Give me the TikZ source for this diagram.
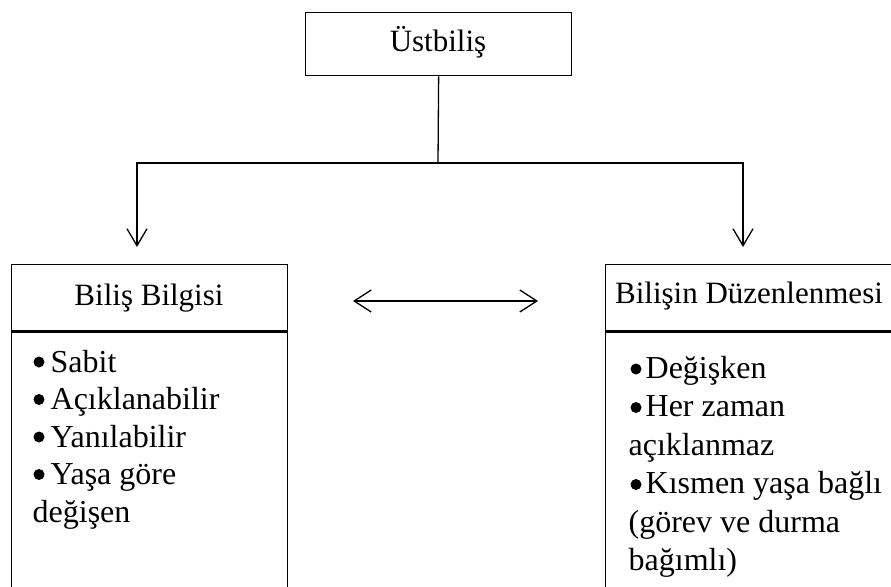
\documentclass[tikz,border=0pt]{standalone}
\usepackage{fontspec}
\setmainfont{Liberation Serif}
\usetikzlibrary{arrows.meta}
\begin{document}
\begin{tikzpicture}[x=1pt,y=-1pt,
  line width=1.3pt,
  frame/.style={draw, inner sep=0pt, anchor=north west},
  title/.style={anchor=base, inner sep=0pt, font=\fontsize{31}{36}\selectfont},
  item/.style={anchor=base west, inner sep=0pt, font=\fontsize{32}{37}\selectfont},
  dot/.style={circle, fill, inner sep=0pt, minimum size=11pt},
  tip/.style={-{Straight Barb[length=17pt,width=20pt]}},
  dtip/.style={{Straight Barb[length=17pt,width=22pt]}-{Straight Barb[length=17pt,width=22pt]}},
]
\useasboundingbox (0,0) rectangle (891,586);
\begin{scope}
\clip (0,0) rectangle (891,586);
% top box
\node[frame, minimum width=266pt, minimum height=63pt] (ust) at (305,12) {};
\node[title] (ustt) at (438,52) {Üstbiliş};
\coordinate (mid) at (438,163);
\coordinate (lt) at (137,247);
\coordinate (rt) at (743,247);
\draw (ust.south) -- (mid);
\draw[tip] (mid) -| (lt);
\draw[tip] (mid) -| (rt);
% left box
\node[frame, minimum width=276pt, minimum height=66pt] (lh) at (11,264) {};
\node[frame, minimum width=276pt, minimum height=280pt] (lb) at (lh.south west) {};
\node[title] (lht) at (149,305) {Biliş Bilgisi};
% right box
\node[frame, minimum width=290pt, minimum height=66pt] (rh) at (605,264) {};
\node[frame, minimum width=290pt, minimum height=280pt] (rb) at (rh.south west) {};
\node[title] (rht) at (749,303) {Bilişin Düzenlenmesi};
% double arrow
\coordinate (da) at (353,301);
\coordinate (db) at (538,301);
\draw[dtip] (da) -- (db);
% left items
\node[dot] (lb1) at (39,362) {};
\node[item] (l1) at (50,372) {Sabit};
\node[dot] (lb2) at (39,399.5) {};
\node[item] (l2) at (50,409.5) {Açıklanabilir};
\node[dot] (lb3) at (39,437) {};
\node[item] (l3) at (50,447) {Yanılabilir};
\node[dot] (lb4) at (39,474.5) {};
\node[item] (l4) at (50,484.5) {Yaşa göre};
\node[item] (l5) at (32,522) {değişen};
% right items
\node[dot] (rb1) at (636,369) {};
\node[item] (r1) at (645,378) {Değişken};
\node[dot] (rb2) at (636,407.5) {};
\node[item] (r2) at (645,416.5) {Her zaman};
\node[item] (r3) at (628,455) {açıklanmaz};
\node[dot] (rb4) at (636,484.5) {};
\node[item] (r4) at (645,493.5) {Kısmen yaşa bağlı};
\node[item] (r5) at (628,532) {(görev ve durma};
\node[item] (r6) at (628,570.5) {bağımlı)};
\end{scope}
\end{tikzpicture}
\end{document}
